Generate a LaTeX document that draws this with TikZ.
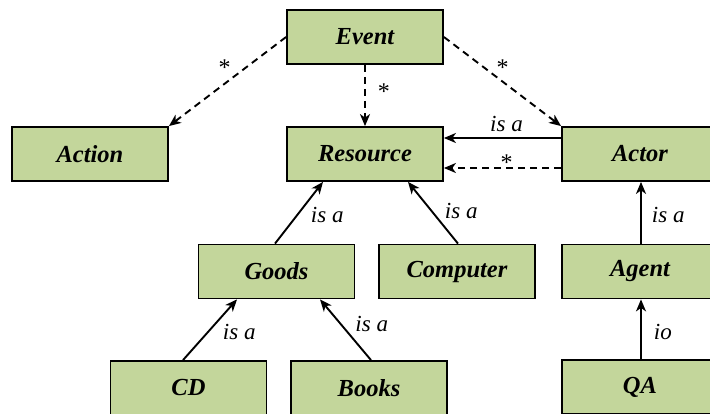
\documentclass[tikz,border=0pt]{standalone}
\usepackage{fontspec}
\setmainfont{Liberation Serif}
\usetikzlibrary{arrows.meta}
\definecolor{boxfill}{HTML}{C3D69B}
\tikzset{
  entity/.style={draw=black, fill=boxfill, line width=1.8pt, minimum width=156pt,
    minimum height=54pt, inner sep=0pt, font=\fontsize{24.5}{27}\selectfont\bfseries\itshape},
  rel/.style={line width=1.9pt, -{Stealth[length=12pt,width=10pt,inset=3.5pt]}},
  assoc/.style={rel, dash pattern=on 7pt off 5pt},
  lbl/.style={font=\fontsize{23}{26}\selectfont\itshape, inner sep=0pt},
  star/.style={font=\fontsize{24}{26}\selectfont, inner sep=0pt}
}
\begin{document}
\begin{tikzpicture}[x=1pt, y=-1pt]
  \useasboundingbox (0,0) rectangle (710,414);
  % classes
  \node[entity] (event)    at (365,37)    {Event};
  \node[entity] (action)   at (90,154)    {Action};
  \node[entity] (resource) at (365,154)   {Resource};
  \node[entity] (actor)    at (640,154)   {Actor};
  \node[entity] (goods)    at (276.5,271.5) {Goods};
  \node[entity] (computer) at (457,271.5) {Computer};
  \node[entity] (agent)    at (640,271.5) {Agent};
  \node[entity] (cd)       at (188.5,388) {CD};
  \node[entity] (books)    at (369,388)   {Books};
  \node[entity] (qa)       at (640,387)   {QA};
  % associations from Event
  \draw[assoc] (event.west) -- node[star, pos=0.5, xshift=-3pt, yshift=14pt] (s1) {*} (action.north east);
  \draw[assoc] (event.south) -- node[star, pos=0.47, anchor=west, xshift=12pt, yshift=2pt] (s2) {*} (resource.north);
  \draw[assoc] (event.east) -- node[star, pos=0.5, xshift=0pt, yshift=14pt] (s3) {*} (actor.north west);
  % Actor to Resource
  \draw[rel] ([yshift=16pt]actor.west) -- node[lbl, midway, anchor=south, yshift=5pt, xshift=4pt] (l1) {is a} ([yshift=16pt]resource.east);
  \draw[assoc] ([yshift=-14pt]actor.west) -- node[star, midway, anchor=south, yshift=-3pt, xshift=4pt] (s4) {*} ([yshift=-14pt]resource.east);
  % generalisations
  \draw[rel] ([xshift=-1.5pt]goods.north) -- node[lbl, midway, anchor=west, xshift=11pt, yshift=-2pt] (l2) {is a} ([xshift=-42pt]resource.south);
  \draw[rel] ([xshift=1pt]computer.north) -- node[lbl, midway, anchor=west, xshift=11pt, yshift=2pt] (l3) {is a} ([xshift=43pt]resource.south);
  \draw[rel] ([xshift=-5.5pt]cd.north) -- node[lbl, midway, anchor=west, xshift=12pt, yshift=-2pt] (l4) {is a} ([xshift=-39.5pt]goods.south);
  \draw[rel] ([xshift=2pt]books.north) -- node[lbl, midway, anchor=west, xshift=9pt, yshift=6pt] (l5) {is a} ([xshift=43.5pt]goods.south);
  \draw[rel] ([xshift=1pt]agent.north) -- node[lbl, midway, anchor=west, xshift=10pt, yshift=-2pt] (l6) {is a} ([xshift=1pt]actor.south);
  \draw[rel] ([xshift=1pt]qa.north) -- node[lbl, midway, anchor=west, xshift=12pt, yshift=-3pt] (l7) {io} ([xshift=1pt]agent.south);
\end{tikzpicture}
\end{document}
